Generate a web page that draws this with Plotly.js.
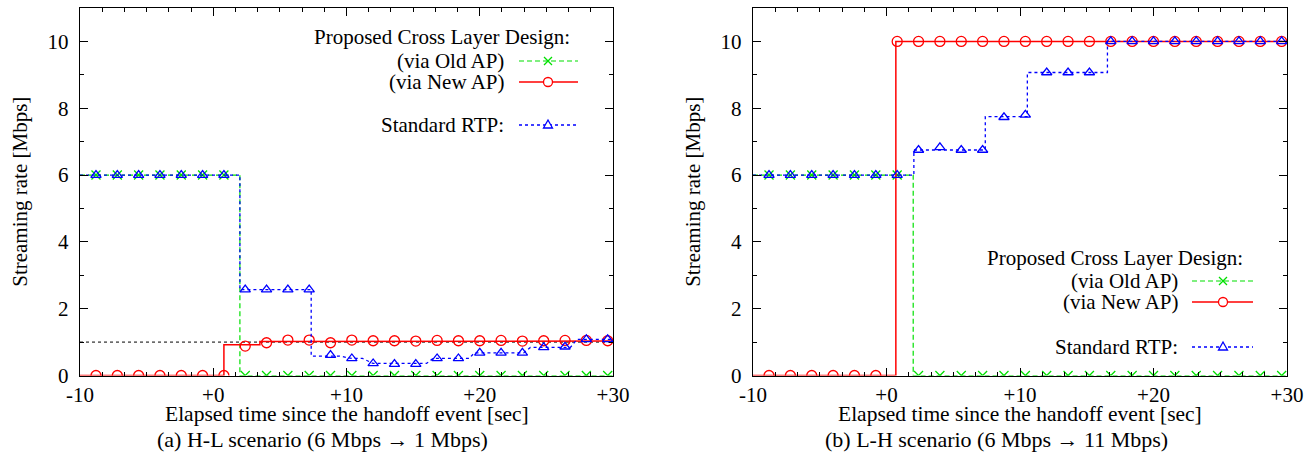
<!DOCTYPE html>
<html>
<head>
<meta charset="utf-8">
<script src="https://cdn.plot.ly/plotly-3.0.1.min.js"></script>
<style>
  html, body { margin: 0; padding: 0; background: #fff; }
  #chart { width: 1315px; height: 474px; }
</style>
</head>
<body>
<div id="chart"></div>
<script>
// ---------------- DATA ----------------
const xTickVals = [-10, 0, 10, 20, 30];
const xTickText = ['-10', '+0', '+10', '+20', '+30'];
const yTickVals = [0, 2, 4, 6, 8, 10];
const yTickText = ['0', '2', '4', '6', '8', '10'];

const seriesNames = ['(via Old AP)', '(via New AP)', 'Standard RTP:'];
const legendHeader = 'Proposed Cross Layer Design:';
const xTitle = 'Elapsed time since the handoff event [sec]';
const yTitle = 'Streaming rate [Mbps]';
const captionA = '(a) H-L scenario (6 Mbps \u2192 1 Mbps)';
const captionB = '(b) L-H scenario (6 Mbps \u2192 11 Mbps)';

// times of the plotted point symbols (sec)
const markerTimes = [-8.8, -7.2, -5.6, -4.0, -2.4, -0.8, 0.8, 2.4, 4.0, 5.6, 7.2, 8.8, 10.4,
                     12.0, 13.6, 15.2, 16.8, 18.4, 20.0, 21.6, 23.2, 24.8, 26.4, 28.0, 29.6];

// (a) H-L scenario
const hlOldMarks = [6, 6, 6, 6, 6, 6, 6, 0, 0, 0, 0, 0, 0, 0, 0, 0, 0, 0, 0, 0, 0, 0, 0, 0, 0];
const hlOldLineT = [-10, 2.0, 2.0, 30];
const hlOldLineV = [6, 6, 0, 0];
const hlNewMarks = [0, 0, 0, 0, 0, 0, 0, 0.88, 0.98, 1.06, 1.06, 0.98, 1.06, 1.04, 1.04, 1.03,
                    1.05, 1.04, 1.04, 1.05, 1.03, 1.04, 1.05, 1.05, 1.04];
const hlNewLineT = [-10, 0.8, 0.8, 3.5, 3.5, 30];
const hlNewLineV = [0, 0, 0.92, 0.92, 1.02, 1.03];
const hlRtpMarks = [6, 6, 6, 6, 6, 6, 6, 2.57, 2.57, 2.57, 2.57, 0.61, 0.51, 0.36, 0.34, 0.34,
                    0.51, 0.51, 0.68, 0.68, 0.68, 0.84, 0.86, 1.08, 1.08];
const hlRtpLineT = [-10, 2.0, 2.0, 7.35, 7.35, 9.5, 10.4, 11.2, 12.0, 16.0, 16.5, 19.2, 19.6,
                    23.3, 23.8, 26.8, 27.3, 30];
const hlRtpLineV = [6, 6, 2.57, 2.57, 0.58, 0.58, 0.51, 0.51, 0.36, 0.36, 0.51, 0.51, 0.68,
                    0.68, 0.84, 0.84, 1.08, 1.08];
const hlCapT = [-10, 30];
const hlCapV = [1, 1];

// (b) L-H scenario
const lhOldMarks = [6, 6, 6, 6, 6, 6, 6, 0, 0, 0, 0, 0, 0, 0, 0, 0, 0, 0, 0, 0, 0, 0, 0, 0, 0];
const lhOldLineT = [-10, 2.0, 2.0, 30];
const lhOldLineV = [6, 6, 0, 0];
const lhNewMarks = [0, 0, 0, 0, 0, 0, 10, 10, 10, 10, 10, 10, 10, 10, 10, 10, 10, 10, 10, 10,
                    10, 10, 10, 10, 10];
const lhNewLineT = [-10, 0.7, 0.7, 30];
const lhNewLineV = [0, 0, 10, 10];
const lhRtpMarks = [6, 6, 6, 6, 6, 6, 6, 6.75, 6.83, 6.75, 6.75, 7.73, 7.80, 9.07, 9.07, 9.07,
                    10, 10, 10, 10, 10, 10, 10, 10, 10];
const lhRtpLineT = [-10, 2.05, 2.05, 7.4, 7.4, 10.55, 10.55, 16.55, 16.55, 30];
const lhRtpLineV = [6, 6, 6.75, 6.75, 7.75, 7.75, 9.07, 9.07, 10, 10];

// ---------------- STYLE / LAYOUT ----------------
const W = 1315, H = 474;
const fx = p => p / W;
const fy = p => 1 - p / H;
const FONT = 'Liberation Serif';
const FS = 21;
const GREEN = '#00e000', RED = '#ff0000', BLUE = '#0000ff';

const sty = {
  old: { color: GREEN, dash: '5px,3px', width: 1.2, symbol: 'x-thin-open', size: 9 },
  nw:  { color: RED, dash: 'solid', width: 1.5, symbol: 'circle-open', size: 10 },
  rtp: { color: BLUE, dash: '3px,3px', width: 1.3, symbol: 'triangle-up-open', size: 9 }
};

function lineTrace(t, v, s, xa, ya) {
  return { x: t, y: v, xaxis: xa, yaxis: ya, type: 'scatter', mode: 'lines',
           line: { color: s.color, dash: s.dash, width: s.width }, showlegend: false, hoverinfo: 'skip' };
}
function markTrace(t, v, s, xa, ya) {
  return { x: t, y: v, xaxis: xa, yaxis: ya, type: 'scatter', mode: 'markers',
           marker: { symbol: s.symbol, size: s.size, color: s.color,
                     line: { color: s.color, width: 1.3 } },
           showlegend: false, hoverinfo: 'skip' };
}

const traces = [
  { x: hlCapT, y: hlCapV, xaxis: 'x', yaxis: 'y', type: 'scatter', mode: 'lines',
    line: { color: '#000', dash: 'dot', width: 1 }, showlegend: false, hoverinfo: 'skip' },
  lineTrace(hlOldLineT, hlOldLineV, sty.old, 'x', 'y'),
  markTrace(markerTimes, hlOldMarks, sty.old, 'x', 'y'),
  lineTrace(hlNewLineT, hlNewLineV, sty.nw, 'x', 'y'),
  markTrace(markerTimes, hlNewMarks, sty.nw, 'x', 'y'),
  lineTrace(hlRtpLineT, hlRtpLineV, sty.rtp, 'x', 'y'),
  markTrace(markerTimes, hlRtpMarks, sty.rtp, 'x', 'y'),

  lineTrace(lhOldLineT, lhOldLineV, sty.old, 'x2', 'y2'),
  markTrace(markerTimes, lhOldMarks, sty.old, 'x2', 'y2'),
  lineTrace(lhNewLineT, lhNewLineV, sty.nw, 'x2', 'y2'),
  markTrace(markerTimes, lhNewMarks, sty.nw, 'x2', 'y2'),
  lineTrace(lhRtpLineT, lhRtpLineV, sty.rtp, 'x2', 'y2'),
  markTrace(markerTimes, lhRtpMarks, sty.rtp, 'x2', 'y2')
];

function xAxis(domain, anchor) {
  return {
    domain: domain, anchor: anchor, range: [-10, 30],
    tickmode: 'array', tickvals: xTickVals, ticktext: xTickText,
    ticks: 'inside', ticklen: 8, tickwidth: 1, tickcolor: '#000',
    minor: { ticks: 'inside', ticklen: 4, tickwidth: 1, tickcolor: '#000', dtick: 10 / 6, tick0: -10, showgrid: false },
    showline: true, linecolor: '#000', linewidth: 1.3, mirror: 'ticks',
    showgrid: false, zeroline: false, automargin: false,
    tickfont: { family: FONT, size: FS, color: '#000' }
  };
}
function yAxis(domain, anchor) {
  return {
    domain: domain, anchor: anchor, range: [0, 11],
    tickmode: 'array', tickvals: yTickVals, ticktext: yTickText,
    ticks: 'inside', ticklen: 8, tickwidth: 1, tickcolor: '#000',
    minor: { ticks: 'inside', ticklen: 4, tickwidth: 1, tickcolor: '#000', dtick: 1, showgrid: false },
    showline: true, linecolor: '#000', linewidth: 1.3, mirror: 'ticks',
    showgrid: false, zeroline: false, automargin: false,
    tickfont: { family: FONT, size: FS, color: '#000' },
    ticklabelstandoff: 6,
    title: { text: yTitle, standoff: 14, font: { family: FONT, size: FS, color: '#000' } }
  };
}

const yDom = [fy(375.5), fy(8)];

// manual gnuplot-style keys: text right-aligned, sample to its right
const annotations = [];
const shapes = [];
function addKey(headX, headY, textX, rows, lx0, lx1, mx) {
  annotations.push({ xref: 'paper', yref: 'paper', x: fx(headX), y: fy(headY), xanchor: 'right', yanchor: 'middle',
                     text: legendHeader, showarrow: false, font: { family: FONT, size: FS, color: '#000' } });
  const keys = [sty.old, sty.nw, sty.rtp];
  rows.forEach((ry, i) => {
    const s = keys[i];
    annotations.push({ xref: 'paper', yref: 'paper', x: fx(textX), y: fy(ry), xanchor: 'right', yanchor: 'middle',
                       text: seriesNames[i], showarrow: false, font: { family: FONT, size: FS, color: '#000' } });
    shapes.push({ type: 'line', xref: 'paper', yref: 'paper', x0: fx(lx0), x1: fx(lx1), y0: fy(ry), y1: fy(ry),
                  line: { color: s.color, width: s.width, dash: s.dash } });
    let path;
    if (i === 0) {
      path = `M${fx(mx - 4)},${fy(ry - 4)} L${fx(mx + 4)},${fy(ry + 4)} M${fx(mx - 4)},${fy(ry + 4)} L${fx(mx + 4)},${fy(ry - 4)}`;
      shapes.push({ type: 'path', xref: 'paper', yref: 'paper', path: path, line: { color: s.color, width: 1.3 } });
    } else if (i === 1) {
      shapes.push({ type: 'circle', xref: 'paper', yref: 'paper', x0: fx(mx - 4.5), x1: fx(mx + 4.5),
                    y0: fy(ry + 4.5), y1: fy(ry - 4.5), fillcolor: '#fff', line: { color: s.color, width: 1.3 } });
    } else {
      path = `M${fx(mx)},${fy(ry - 5)} L${fx(mx + 4.5)},${fy(ry + 3)} L${fx(mx - 4.5)},${fy(ry + 3)} Z`;
      shapes.push({ type: 'path', xref: 'paper', yref: 'paper', path: path, fillcolor: '#fff', line: { color: s.color, width: 1.3 } });
    }
  });
}
addKey(572, 37, 506, [61, 82, 125], 519, 578, 548);
addKey(1245, 258, 1180, [281, 302, 347], 1192, 1253, 1223);

function addBottomText(cx, cy, text, size) {
  annotations.push({ xref: 'paper', yref: 'paper', x: fx(cx), y: fy(cy), xanchor: 'center', yanchor: 'middle',
                     text: text, showarrow: false, font: { family: FONT, size: size, color: '#000' } });
}
addBottomText(347, 414, xTitle, 21.5);
addBottomText(1020, 414, xTitle, 21.5);
addBottomText(322, 439, captionA, 22);
addBottomText(996, 439, captionB, 22);

const layout = {
  width: W, height: H,
  margin: { l: 0, r: 0, t: 0, b: 0 },
  paper_bgcolor: '#fff', plot_bgcolor: '#fff',
  showlegend: false,
  font: { family: FONT, size: FS, color: '#000' },
  xaxis: xAxis([fx(80), fx(613)], 'y'),
  yaxis: yAxis(yDom, 'x'),
  xaxis2: xAxis([fx(753), fx(1287)], 'y2'),
  yaxis2: yAxis(yDom, 'x2'),
  annotations: annotations,
  shapes: shapes
};

Plotly.newPlot('chart', traces, layout, { staticPlot: true, displayModeBar: false });
</script>
</body>
</html>
